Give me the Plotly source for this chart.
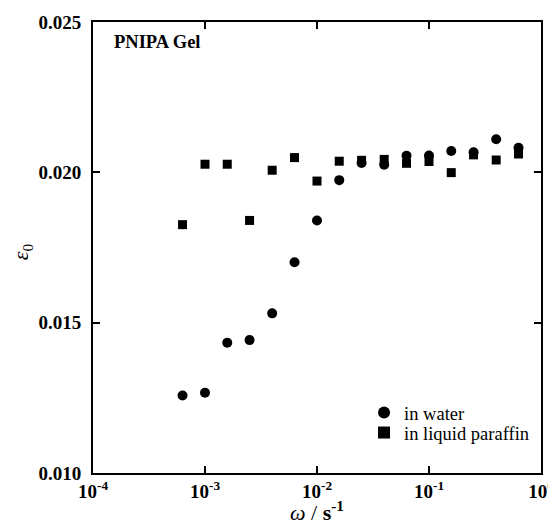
import plotly.graph_objects as go

omega = [6.3e-4, 1.0e-3, 1.58e-3, 2.5e-3, 3.98e-3, 6.3e-3, 1.0e-2, 1.58e-2,
         2.5e-2, 3.98e-2, 6.3e-2, 0.1, 0.158, 0.25, 0.398, 0.63]
eps_water = [0.01258, 0.01267, 0.01433, 0.01442, 0.01531, 0.01701, 0.0184, 0.01974,
             0.02031, 0.02025, 0.02055, 0.02056, 0.02071, 0.02067, 0.0211, 0.02082]
eps_paraffin = [0.01826, 0.02027, 0.02027, 0.0184, 0.02007, 0.02049, 0.01971, 0.02037,
                0.0204, 0.02043, 0.0203, 0.02036, 0.01999, 0.02058, 0.02041, 0.02061]
x_tickvals = [1e-4, 1e-3, 1e-2, 1e-1, 1e0]
x_ticktext = ["<b>10<sup>-4</sup></b>", "<b>10<sup>-3</sup></b>", "<b>10<sup>-2</sup></b>",
              "<b>10<sup>-1</sup></b>", "<b>10<sup>0</sup></b>"]
y_ticks = [0.010, 0.015, 0.020, 0.025]
series_names = ["in water", "in liquid paraffin"]

SERIF = "Liberation Serif"

fig = go.Figure()
fig.add_trace(go.Scatter(x=omega, y=eps_water, mode="markers", name=series_names[0],
                         legend="legend",
                         marker=dict(symbol="circle", size=10, color="black")))
fig.add_trace(go.Scatter(x=omega, y=eps_paraffin, mode="markers", name=series_names[1],
                         legend="legend2",
                         marker=dict(symbol="square", size=9, color="black")))

axis_common = dict(showline=True, linecolor="black", linewidth=2, mirror="ticks",
                   ticks="inside", ticklen=7, tickwidth=2, tickcolor="black",
                   showgrid=False, zeroline=False, automargin=False,
                   tickfont=dict(family=SERIF, size=19, color="black", weight="bold"))

fig.update_xaxes(type="log", range=[-4, 0], tickvals=x_tickvals, ticktext=x_ticktext,
                 **axis_common)
fig.update_yaxes(range=[0.010, 0.025], tickvals=y_ticks, tickformat=".3f",
                 ticklabelstandoff=6, **axis_common)

fig.add_annotation(text="<i>ω</i> / <b>s</b><sup><b>-1</b></sup>", xref="paper", yref="paper",
                   x=0.5, y=-0.085, xanchor="center", yanchor="middle", showarrow=False,
                   font=dict(family=SERIF, size=22, color="black"))
fig.add_annotation(text="<i>ε</i><sub>0</sub>", xref="paper", yref="paper",
                   x=-0.158, y=0.49, xanchor="center", yanchor="middle",
                   showarrow=False, textangle=-90,
                   font=dict(family=SERIF, size=22, color="black"))
fig.add_annotation(text="<b>PNIPA Gel</b>", xref="paper", yref="paper",
                   x=0.043, y=0.955, xanchor="left", yanchor="middle", showarrow=False,
                   font=dict(family=SERIF, size=18.5, color="black"))

legend_common = dict(x=0.605, xanchor="left", yanchor="middle",
                     bgcolor="rgba(0,0,0,0)", itemsizing="constant",
                     font=dict(family=SERIF, size=18.5, color="black"))

# The page body has an 8px margin, so the figure is sized to fit the window.
fig.update_layout(width=548, height=518, margin=dict(l=85, r=15, t=14, b=53),
                  paper_bgcolor="white", plot_bgcolor="white",
                  showlegend=True,
                  legend=dict(y=(473 - 413) / 451, **legend_common),
                  legend2=dict(y=(473 - 433) / 451, **legend_common))

fig.write_html("out.html")
